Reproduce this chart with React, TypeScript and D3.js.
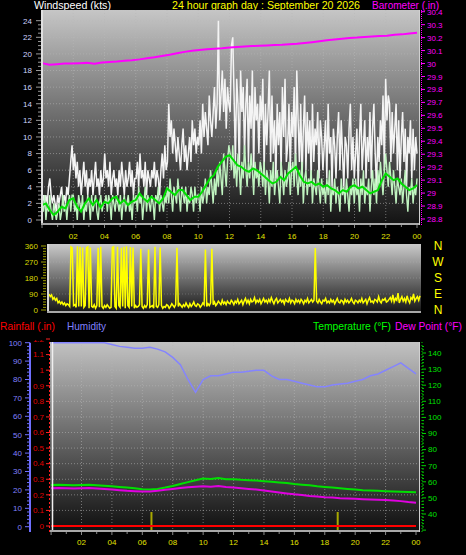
import React from 'react';
import * as d3 from 'd3';

const W = 466, H = 555;

// ---------- tick labels ----------
const hourTicks = [2, 4, 6, 8, 10, 12, 14, 16, 18, 20, 22, 24];
const hourLabels = ['02', '04', '06', '08', '10', '12', '14', '16', '18', '20', '22', '00'];
const windTicks = [0, 2, 4, 6, 8, 10, 12, 14, 16, 18, 20, 22, 24];
const baroTicks = [28.8, 28.9, 29, 29.1, 29.2, 29.3, 29.4, 29.5, 29.6, 29.7, 29.8, 29.9, 30, 30.1, 30.2, 30.3, 30.4];
const dirTicks = [0, 90, 180, 270, 360];
const compassDeg = [360, 270, 180, 90, 0];
const compassLabels = ['N', 'W', 'S', 'E', 'N'];
const humTicks = [0, 10, 20, 30, 40, 50, 60, 70, 80, 90, 100];
const rainTicks = [0, 0.1, 0.2, 0.3, 0.4, 0.5, 0.6, 0.7, 0.8, 0.9, 1, 1.1, 1.2];
const tempTicks = [40, 50, 60, 70, 80, 90, 100, 110, 120, 130, 140];

// ---------- series (5-minute) ----------
const windGust = [
  2,3,2,3,2,4,5,3,2,3,2,1,3,2,3,4,2,3,2,4,3,5,7,9,
  6,8,5,7,4,6,3,5,7,4,6,3,5,4,6,3,5,7,4,5,3,6,4,5,
  8,5,6,4,7,3,5,6,4,5,3,6,4,7,5,3,6,4,5,7,4,6,3,5,
  5,7,4,8,5,6,4,7,3,6,5,4,6,5,7,4,6,5,3,6,8,5,9,6,
  7,14,10,12,8,11,9,7,10,8,6,9,11,7,9,6,8,10,7,12,9,11,8,10,
  9,12,8,14,10,13,11,9,15,12,10,13,16,11,14,24,12,15,18,13,17,11,16,14,
  13,21,22,15,7,17,14,6,18,13,16,8,14,17,7,15,11,18,6,16,12,14,8,15,
  12,17,6,14,9,13,18,7,15,8,12,5,14,9,13,6,16,10,17,7,9,14,6,13,
  10,16,6,18,12,7,14,5,11,15,6,13,8,12,5,14,7,11,9,13,5,12,10,6,
  9,12,5,14,8,10,4,11,9,5,10,13,6,12,8,4,10,9,5,11,14,6,10,5,
  8,11,4,10,14,6,9,12,5,10,7,13,5,11,14,8,4,10,7,12,9,15,6,17,
  12,15,14,7,13,8,11,14,6,12,5,10,13,7,11,4,10,8,12,5,11,6,10,8,
];
const windSpeed = [
  2,1,3,0,2,1,3,1,0,2,1,0,1,2,0,1,3,1,2,0,2,3,1,3,
  3,1,2,0,3,2,1,3,0,2,1,3,2,0,3,1,2,3,1,0,2,3,1,2,
  2,3,1,3,2,0,3,2,1,3,2,1,3,0,2,3,1,2,3,1,2,0,3,2,
  3,1,4,2,3,0,2,4,1,3,2,1,3,2,0,3,2,4,1,3,2,1,3,2,
  4,2,5,3,1,4,3,2,5,3,1,4,3,2,4,1,3,2,4,3,1,4,2,3,
  3,1,4,2,3,5,2,4,3,6,4,2,5,3,6,4,7,5,3,8,6,4,7,9,
  8,6,9,5,7,4,8,6,3,7,5,9,6,4,7,5,8,6,3,7,5,6,4,7,
  6,4,7,3,6,5,2,6,4,7,3,5,6,4,2,7,5,3,6,4,5,7,3,6,
  7,4,8,5,3,6,4,7,2,5,6,3,5,4,6,2,5,4,3,6,4,2,5,3,
  4,2,5,3,6,1,4,3,5,2,4,3,1,5,3,4,2,5,3,1,4,3,5,2,
  5,3,4,1,5,3,6,2,4,3,5,1,4,6,3,5,2,6,4,7,5,3,6,8,
  6,4,7,5,3,6,4,2,5,4,3,5,2,4,6,3,1,4,3,5,2,4,3,5,
];
// 15-minute average wind
const windAvg = [
  1.8,2.0,1.2,0.6, 1.0,1.6,1.4,2.4, 2.6,1.6,1.0,2.0, 2.6,1.8,2.4,1.5,
  2.2,2.0,2.6,2.8, 2.0,2.4,1.8,2.2, 2.4,3.2,2.6,2.2, 2.8,2.4,2.0,2.6,
  3.8,3.4,3.0,3.6, 3.6,3.0,2.4,2.8, 2.8,3.4,4.2,5.0, 5.4,6.4,7.0,7.6,
  7.8,7.2,6.6,6.4, 6.0,5.8,6.2,6.0, 5.6,5.2,4.8,4.4, 4.6,5.2,4.8,5.6,
  6.0,6.4,5.4,4.6, 4.4,4.6,4.2,4.4, 4.0,4.2,3.8,3.6, 3.2,3.6,3.4,4.0,
  4.2,3.8,4.0,3.6, 3.2,3.4,3.6,4.8, 5.6,5.2,4.8,5.0, 4.4,4.0,3.6,3.8,
  4.2,
];
// half-hourly barometer
const barometer = [
  30.003,29.99,29.995,30.0,30.0,30.002,30.005,29.998,30.008,30.012,30.015,30.022,30.026,30.032,
  30.04,30.048,30.058,30.068,30.08,30.09,30.098,30.104,30.11,30.114,30.118,30.124,30.128,30.132,
  30.135,30.137,30.14,30.143,30.145,30.149,30.152,30.158,30.165,30.172,30.18,30.186,30.192,
  30.197,30.2,30.205,30.208,30.212,30.215,30.222,30.225,30.232,30.237,
];
// 5-minute wind direction (degrees)
const windDir = [
  90,75,85,60,70,55,65,40,50,35,45,30,40,25,35,30,20,355,350,25,30,15,358,20,
  355,20,352,15,25,350,356,10,352,20,15,30,10,25,350,15,355,20,10,25,15,30,20,10,
  15,352,356,20,10,355,25,15,350,20,356,10,358,25,15,354,20,352,10,25,15,20,30,345,
  20,10,25,15,30,340,15,20,25,10,355,20,15,30,352,25,10,20,15,30,25,10,20,35,
  25,15,30,350,20,35,25,15,30,20,40,25,15,35,20,30,45,25,20,35,30,15,25,40,
  30,340,20,35,25,40,345,30,45,25,35,50,40,30,55,35,45,30,50,40,35,55,45,30,
  50,40,60,35,45,55,30,50,65,40,55,35,60,45,50,70,40,55,45,60,35,50,65,45,
  55,40,60,45,70,50,35,55,65,40,50,60,45,55,35,60,50,45,65,40,55,50,35,60,
  45,55,40,60,50,35,55,45,65,40,50,60,45,55,348,50,40,60,45,35,55,50,65,40,
  50,40,60,45,55,35,50,65,45,40,55,50,35,60,45,55,40,50,65,45,35,55,50,40,
  55,45,65,40,50,60,35,55,70,45,50,40,60,55,45,75,50,40,60,55,65,45,50,60,
  70,50,85,45,65,55,95,40,60,75,50,65,45,80,55,40,70,60,90,50,65,75,55,80,
];
// half-hourly humidity (%), temperature and dew point (°F)
const humidity = [
  100,100,100,100,100,100,100,100, 99,98,97.5,97,97,97.5,96.5,95,
  92,88,80,73,80,82,82,83, 84,84,84.5,85,85,82,80,80,
  79,78,77,76,76,77,77.5,78, 79,80,82,83,85,87,89,86, 83,
];
const temperature = [
  58,58.2,58,57.8,58,58.1,57.9,57.6, 57.2,56.8,56.4,56,55.4,55.2,55.6,56.4,
  57.4,58.6,59.8,61,62,61.8,62.4,61.6, 61.6,61.2,61,60.8,60.4,60,59.6,59.2,
  58.6,58.2,57.8,57.2,56.8,56.4,56,55.6, 55.2,54.8,54.6,54.4,54.2,54,53.8,53.6, 53.5,
];
const dewPoint = [
  56,56.2,56,55.8,56,56.1,55.9,55.6, 55.2,54.8,54.4,54.2,54,54,54.4,55,
  55.6,56.2,56.6,57,57.2,57,57.4,56.8, 56.4,56,55.6,55.2,54.6,54,53.4,52.8,
  52.2,51.8,51.2,50.8,50.4,50.2,49.8,49.6, 49.4,49.2,49,48.9,48.7,48.4,48,47.4, 47,
];
// hourly rainfall (in)
const rainfall = [0,0,0,0,0,0,0,0,0,0,0,0,0,0,0,0,0,0,0,0,0,0,0,0,0];
// rain event markers (hour, height in inches)
const rainEventHours = [6.6, 18.85];
const rainEventHeights = [0.09, 0.09];

const FONT = '"Liberation Sans", Arial, sans-serif';

function series(arr: number[], x: d3.ScaleLinear<number, number>, y: d3.ScaleLinear<number, number>) {
  const n = arr.length - 1;
  return d3.line<number>().x((_, i) => x((i * 24) / n)).y((d) => y(d))(arr) || '';
}

function Title({ x, y, w, color, children }: { x: number; y: number; w: number; color: string; children: string }) {
  return (
    <text x={x} y={y} fill={color} fontSize={11} textLength={w} lengthAdjust="spacingAndGlyphs">{children}</text>
  );
}

export default function App() {
  // top chart
  const xTop = d3.scaleLinear().domain([0, 24]).range([42, 417]);
  const yWind = d3.scaleLinear().domain([0, 24]).range([220, 20.7]);
  const yBaro = d3.scaleLinear().domain([28.8, 30.4]).range([219, 11.7]);
  // middle chart
  const xMid = d3.scaleLinear().domain([0, 24]).range([49, 420]);
  const yDir = d3.scaleLinear().domain([0, 360]).range([310, 246]);
  // bottom chart
  const xBot = d3.scaleLinear().domain([0, 24]).range([51.1, 416]);
  const yHum = d3.scaleLinear().domain([0, 100]).range([526.7, 342.7]);
  const yRain = d3.scaleLinear().domain([0, 1.2]).range([526, 339]);
  const yTemp = d3.scaleLinear().domain([40, 140]).range([514, 353]);

  const top = { x0: 41, x1: 420, y0: 10, y1: 225 };
  const mid = { x0: 47, x1: 421, y0: 244, y1: 313 };
  const bot = { x0: 50, x1: 420, y0: 342, y1: 532 };

  const minorWind = d3.range(0, 24.01, 0.5);
  const minorDir = d3.range(0, 360.1, 15);
  const minorHum = d3.range(0, 100.1, 2);
  const minorTemp = d3.range(30, 145, 2);
  const hours = d3.range(0, 24.01, 1);

  const grid = { stroke: '#b8b8b8', strokeOpacity: 0.55, strokeDasharray: '1 2', strokeWidth: 1 };

  return (
    <svg width={W} height={H} style={{ position: 'absolute', left: 0, top: 0, background: '#000' }}
      fontFamily={FONT}>
      <defs>
        <linearGradient id="gTop" x1="0" y1="0" x2="0" y2="1">
          <stop offset="0" stopColor="#c6c6c6" />
          <stop offset="1" stopColor="#121212" />
        </linearGradient>
        <linearGradient id="gMid" x1="0" y1="0" x2="0" y2="1">
          <stop offset="0" stopColor="#cacaca" />
          <stop offset="1" stopColor="#141414" />
        </linearGradient>
        <linearGradient id="gBot" x1="0" y1="0" x2="0" y2="1">
          <stop offset="0" stopColor="#c2c2c2" />
          <stop offset="1" stopColor="#0e0e0e" />
        </linearGradient>
        <clipPath id="cTop"><rect x={top.x0} y={top.y0} width={top.x1 - top.x0} height={top.y1 - top.y0} /></clipPath>
        <clipPath id="cMid"><rect x={mid.x0} y={mid.y0} width={mid.x1 - mid.x0} height={mid.y1 - mid.y0} /></clipPath>
        <clipPath id="cBot"><rect x={bot.x0} y={bot.y0} width={bot.x1 - bot.x0} height={bot.y1 - bot.y0} /></clipPath>
        <clipPath id="cRainLbl"><rect x={0} y={340} width={60} height={200} /></clipPath>
      </defs>
      <rect x={0} y={0} width={W} height={H} fill="#000" />

      {/* ================= TOP CHART ================= */}
      <Title x={34} y={9} w={77} color="#ffffff">Windspeed (kts)</Title>
      <Title x={172} y={9} w={188} color="#ffff00">24 hour graph day : September 20 2026</Title>
      <Title x={372} y={9} w={67} color="#ff00ff">Barometer (.in)</Title>

      <rect x={top.x0} y={top.y0} width={top.x1 - top.x0} height={top.y1 - top.y0} fill="url(#gTop)" />
      {windTicks.slice(1).map((t) => (
        <line key={'tg' + t} x1={top.x0} x2={top.x1} y1={yWind(t)} y2={yWind(t)} {...grid} />
      ))}
      {hourTicks.slice(0, -1).map((h) => (
        <line key={'tv' + h} x1={xTop(h)} x2={xTop(h)} y1={top.y0} y2={top.y1} {...grid} />
      ))}
      <g clipPath="url(#cTop)">
        <path d={series(windGust, xTop, yWind)} fill="none" stroke="#f4f4f4" strokeWidth={1.5} />
        <path d={series(windSpeed, xTop, yWind)} fill="none" stroke="#c0f4c0" strokeWidth={1.4} />
        <path d={series(windAvg, xTop, yWind)} fill="none" stroke="#00e000" strokeWidth={2} />
        <path d={series(barometer, xTop, yBaro)} fill="none" stroke="#ff00ff" strokeWidth={2} />
      </g>
      {/* frame */}
      <line x1={top.x0 + 1} x2={top.x0 + 1} y1={top.y0} y2={top.y1} stroke="#e0e0e0" strokeWidth={2} />
      <line x1={top.x0} x2={top.x1} y1={top.y1 - 1} y2={top.y1 - 1} stroke="#a8a8a8" strokeWidth={2} />
      <line x1={top.x1 - 0.5} x2={top.x1 - 0.5} y1={top.y0} y2={top.y1} stroke="#d0d0d0" strokeWidth={1} />
      {/* left axis */}
      {minorWind.map((t) => (
        <line key={'wm' + t} x1={t % 2 === 0 ? 36 : 38} x2={41} y1={yWind(t)} y2={yWind(t)} stroke="#9a9a9a" strokeWidth={1} />
      ))}
      {windTicks.map((t) => (
        <text key={'wl' + t} x={32} y={yWind(t)} dy="0.35em" textAnchor="end" fill="#cdd4ff" fontSize={8}>{t}</text>
      ))}
      {/* right axis */}
      <line x1={421.5} x2={421.5} y1={top.y0} y2={top.y1} stroke="#ff00ff" strokeWidth={1} strokeDasharray="1 1" />
      {baroTicks.map((t) => (
        <g key={'bt' + t}>
          <line x1={421} x2={425} y1={yBaro(t)} y2={yBaro(t)} stroke="#ff00ff" strokeWidth={1} />
          <text x={427} y={yBaro(t)} dy="0.38em" fill="#ff00ff" fontSize={8}>{String(t)}</text>
        </g>
      ))}
      {/* bottom ticks */}
      {hours.map((h) => (
        <line key={'tt' + h} x1={xTop(h)} x2={xTop(h)} y1={top.y1} y2={top.y1 + (h % 2 === 0 ? 3 : 2)} stroke="#8a8a8a" />
      ))}
      {hourTicks.map((h, i) => (
        <text key={'xl' + h} x={xTop(h)} y={236} dy="0.35em" textAnchor="middle" fill="#e0e000" fontSize={8}>{hourLabels[i]}</text>
      ))}

      {/* ================= MIDDLE CHART ================= */}
      <rect x={mid.x0} y={mid.y0} width={mid.x1 - mid.x0} height={mid.y1 - mid.y0} fill="url(#gMid)" />
      {dirTicks.slice(1, -1).map((t) => (
        <line key={'dg' + t} x1={mid.x0} x2={mid.x1} y1={yDir(t)} y2={yDir(t)} {...grid} strokeOpacity={0.3} />
      ))}
      <g clipPath="url(#cMid)">
        <path d={series(windDir, xMid, yDir)} fill="none" stroke="#ffff00" strokeWidth={1.5} />
      </g>
      <line x1={mid.x0 + 1} x2={mid.x0 + 1} y1={mid.y0} y2={mid.y1} stroke="#d8d8d8" strokeWidth={2} />
      <line x1={mid.x0} x2={mid.x1} y1={mid.y1 - 1} y2={mid.y1 - 1} stroke="#a8a8a8" strokeWidth={2} />
      {minorDir.map((t) => (
        <line key={'dm' + t} x1={t % 90 === 0 ? 41 : 43} x2={46} y1={yDir(t)} y2={yDir(t)} stroke="#a0a000" strokeWidth={1} />
      ))}
      {dirTicks.map((t) => (
        <text key={'dl' + t} x={38} y={yDir(t)} dy="0.35em" textAnchor="end" fill="#d8d800" fontSize={8}>{t}</text>
      ))}
      {compassLabels.map((c, i) => (
        <text key={'cp' + i} x={438} y={yDir(compassDeg[i])} dy="0.35em" textAnchor="middle" fill="#ffff00" fontSize={12}>{c}</text>
      ))}

      {/* ================= BOTTOM CHART ================= */}
      <Title x={0} y={330} w={55} color="#ff0000">Rainfall (.in)</Title>
      <Title x={67} y={330} w={39} color="#8080ff">Humidity</Title>
      <Title x={313} y={330} w={78} color="#00ff00">Temperature (°F)</Title>
      <Title x={395} y={330} w={67} color="#ff00ff">Dew Point (°F)</Title>

      <rect x={bot.x0} y={bot.y0} width={bot.x1 - bot.x0} height={bot.y1 - bot.y0} fill="url(#gBot)" />
      {rainTicks.slice(1, -1).map((t) => (
        <line key={'rg' + t} x1={bot.x0} x2={bot.x1} y1={yRain(t)} y2={yRain(t)} {...grid} />
      ))}
      {hourTicks.slice(0, -1).map((h) => (
        <line key={'bv' + h} x1={xBot(h)} x2={xBot(h)} y1={bot.y0} y2={bot.y1} {...grid} />
      ))}
      <g clipPath="url(#cBot)">
        {rainEventHours.map((h, i) => (
          <line key={'re' + i} x1={xBot(h)} x2={xBot(h)} y1={bot.y1} y2={yRain(rainEventHeights[i])} stroke="#a8a800" strokeWidth={2} />
        ))}
        <path d={series(humidity, xBot, yHum)} fill="none" stroke="#8484ff" strokeWidth={1.5} />
        <path d={series(temperature, xBot, yTemp)} fill="none" stroke="#00e000" strokeWidth={2} />
        <path d={series(dewPoint, xBot, yTemp)} fill="none" stroke="#e000e0" strokeWidth={2} />
        <path d={series(rainfall, xBot, yRain)} fill="none" stroke="#ff0000" strokeWidth={2} />
      </g>
      <line x1={bot.x0 + 2.5} x2={bot.x0 + 2.5} y1={bot.y0} y2={bot.y1} stroke="#f0f0f0" strokeWidth={1.5} />
      <line x1={bot.x0} x2={bot.x1} y1={bot.y1 - 1} y2={bot.y1 - 1} stroke="#a8a8a8" strokeWidth={2} />
      <line x1={bot.x1 - 0.5} x2={bot.x1 - 0.5} y1={bot.y0} y2={bot.y1} stroke="#d0d0d0" strokeWidth={1} />
      {/* humidity axis */}
      <line x1={30} x2={30} y1={yHum(100)} y2={bot.y1} stroke="#6f6fff" strokeWidth={2} />
      {minorHum.map((t) => (
        <line key={'hm' + t} x1={t % 10 === 0 ? 25 : 27} x2={30} y1={yHum(t)} y2={yHum(t)} stroke="#6f6fff" strokeWidth={1} />
      ))}
      {humTicks.map((t) => (
        <text key={'hl' + t} x={22} y={yHum(t)} dy="0.35em" textAnchor="end" fill="#8080ff" fontSize={8}>{t}</text>
      ))}
      {/* rain axis */}
      <line x1={49.5} x2={49.5} y1={bot.y0} y2={bot.y1} stroke="#ff2020" strokeWidth={1} strokeDasharray="2 2" />
      {rainTicks.map((t) => (
        <line key={'rt' + t} x1={46} x2={50} y1={yRain(t)} y2={yRain(t)} stroke="#ff2020" strokeWidth={1} />
      ))}
      <g clipPath="url(#cRainLbl)">
        {rainTicks.map((t) => (
          <text key={'rl' + t} x={44} y={yRain(t)} dy="0.35em" textAnchor="end" fill="#e00000" fontSize={8}>{String(t)}</text>
        ))}
      </g>
      {/* temperature axis */}
      <line x1={422} x2={422} y1={bot.y0} y2={bot.y1} stroke="#00d000" strokeWidth={1} strokeDasharray="1 2" />
      {minorTemp.map((t) => (
        <line key={'tm' + t} x1={422} x2={t % 10 === 0 ? 426 : 424} y1={yTemp(t)} y2={yTemp(t)} stroke="#00d000" strokeWidth={1} />
      ))}
      {tempTicks.map((t) => (
        <text key={'tl' + t} x={428} y={yTemp(t)} dy="0.35em" fill="#00e000" fontSize={8}>{t}</text>
      ))}
      {/* bottom x axis */}
      {hours.map((h) => (
        <line key={'bt' + h} x1={xBot(h)} x2={xBot(h)} y1={bot.y1} y2={bot.y1 + (h % 2 === 0 ? 3 : 2)} stroke="#8a8a8a" />
      ))}
      {hourTicks.map((h, i) => (
        <text key={'bx' + h} x={xBot(h)} y={542} dy="0.35em" textAnchor="middle" fill="#e0e000" fontSize={8}>{hourLabels[i]}</text>
      ))}
    </svg>
  );
}
